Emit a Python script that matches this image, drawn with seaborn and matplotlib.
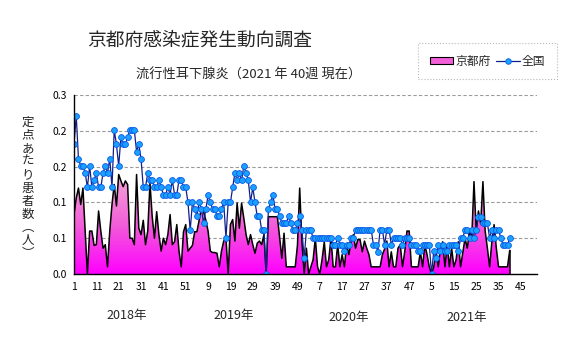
import numpy as np
import pandas as pd
import matplotlib
matplotlib.use("Agg")
import matplotlib.pyplot as plt
import seaborn as sns
from matplotlib.colors import LinearSegmentedColormap
from matplotlib.patches import Patch
from matplotlib.lines import Line2D

# 定点あたり患者数 (per sentinel), weekly, 2018 w1 .. 2021 w40
kyoto_2018 = [0.083, 0.106, 0.12, 0.097, 0.12, 0.06, 0.0, 0.06, 0.06, 0.04,
              0.041, 0.088, 0.06, 0.036, 0.041, 0.01, 0.06, 0.097, 0.125, 0.095,
              0.139, 0.13, 0.122, 0.13, 0.125, 0.05, 0.05, 0.041, 0.139, 0.064,
              0.055, 0.075, 0.041, 0.06, 0.127, 0.08, 0.05, 0.087, 0.055, 0.032,
              0.05, 0.041, 0.055, 0.083, 0.041, 0.045, 0.069, 0.032, 0.01, 0.059,
              0.069, 0.032]
kyoto_2019 = [0.036, 0.04, 0.059, 0.059, 0.075, 0.092, 0.087, 0.075, 0.06, 0.032,
              0.03, 0.03, 0.029, 0.01, 0.032, 0.046, 0.05, 0.0, 0.069, 0.076,
              0.046, 0.099, 0.064, 0.099, 0.078, 0.055, 0.041, 0.055, 0.041, 0.029,
              0.043, 0.046, 0.041, 0.055, 0.0, 0.08, 0.08, 0.08, 0.08, 0.08,
              0.052, 0.022, 0.057, 0.01, 0.01, 0.01, 0.01, 0.01, 0.04, 0.12,
              0.045, 0.0]
kyoto_2020 = [0.036, 0.0, 0.01, 0.02, 0.05, 0.01, 0.0, 0.02, 0.045, 0.01,
              0.02, 0.05, 0.01, 0.01, 0.041, 0.01, 0.027, 0.01, 0.041, 0.027,
              0.045, 0.055, 0.036, 0.048, 0.048, 0.031, 0.046, 0.036, 0.027, 0.01,
              0.01, 0.01, 0.01, 0.01, 0.027, 0.035, 0.046, 0.01, 0.031, 0.01,
              0.01, 0.036, 0.041, 0.01, 0.031, 0.06, 0.06, 0.01, 0.01, 0.01,
              0.01, 0.031]
kyoto_2021 = [0.01, 0.041, 0.027, 0.01, 0.0, 0.01, 0.031, 0.01, 0.036, 0.045,
              0.01, 0.041, 0.01, 0.036, 0.01, 0.02, 0.045, 0.01, 0.03, 0.05,
              0.036, 0.06, 0.05, 0.129, 0.06, 0.088, 0.07, 0.129, 0.06, 0.036,
              0.01, 0.045, 0.069, 0.036, 0.01, 0.01, 0.01, 0.01, 0.01, 0.033]

national_2018 = [0.181, 0.221, 0.161, 0.151, 0.151, 0.141, 0.121, 0.151, 0.121, 0.131,
                 0.141, 0.121, 0.121, 0.141, 0.151, 0.141, 0.161, 0.121, 0.201, 0.181,
                 0.151, 0.191, 0.181, 0.181, 0.191, 0.201, 0.201, 0.201, 0.171, 0.181,
                 0.161, 0.121, 0.121, 0.141, 0.131, 0.131, 0.121, 0.121, 0.131, 0.121,
                 0.111, 0.111, 0.121, 0.111, 0.131, 0.111, 0.111, 0.131, 0.131, 0.121,
                 0.121, 0.10]
national_2019 = [0.061, 0.10, 0.091, 0.081, 0.10, 0.091, 0.071, 0.091, 0.11, 0.10,
                 0.091, 0.091, 0.081, 0.081, 0.091, 0.10, 0.05, 0.10, 0.10, 0.121,
                 0.141, 0.131, 0.141, 0.131, 0.151, 0.141, 0.131, 0.10, 0.121, 0.10,
                 0.081, 0.081, 0.061, 0.061, 0.0, 0.091, 0.10, 0.11, 0.091, 0.091,
                 0.081, 0.071, 0.071, 0.071, 0.081, 0.071, 0.061, 0.061, 0.071, 0.081,
                 0.061, 0.022]
national_2020 = [0.061, 0.061, 0.061, 0.05, 0.05, 0.05, 0.05, 0.05, 0.05, 0.05,
                 0.05, 0.05, 0.041, 0.041, 0.05, 0.041, 0.041, 0.032, 0.041, 0.041,
                 0.05, 0.05, 0.062, 0.062, 0.062, 0.062, 0.062, 0.062, 0.062, 0.062,
                 0.041, 0.041, 0.031, 0.062, 0.062, 0.041, 0.062, 0.062, 0.041, 0.05,
                 0.05, 0.05, 0.05, 0.041, 0.05, 0.05, 0.05, 0.041, 0.041, 0.041,
                 0.032, 0.032]
national_2021 = [0.041, 0.041, 0.041, 0.041, 0.0, 0.032, 0.022, 0.041, 0.032, 0.041,
                 0.032, 0.032, 0.041, 0.041, 0.041, 0.041, 0.032, 0.05, 0.05, 0.062,
                 0.062, 0.05, 0.062, 0.05, 0.062, 0.08, 0.08, 0.071, 0.071, 0.071,
                 0.05, 0.062, 0.05, 0.062, 0.062, 0.05, 0.041, 0.041, 0.041, 0.05]

week_tick_labels = ["1", "11", "21", "31", "41", "51", "9", "19", "29", "39", "49",
                    "7", "17", "27", "37", "47", "5", "15", "25", "35", "45"]
year_labels = ["2018年", "2019年", "2020年", "2021年"]
y_ticks = [0.0, 0.05, 0.10, 0.15, 0.20, 0.25]
y_tick_labels = ["0.0", "0.1", "0.1", "0.2", "0.2", "0.3"]

kyoto = kyoto_2018 + kyoto_2019 + kyoto_2020 + kyoto_2021
national = national_2018 + national_2019 + national_2020 + national_2021

df = pd.DataFrame({"week": np.arange(len(kyoto)), "京都府": kyoto, "全国": national})

sns.set_style("white")
plt.rcParams["font.family"] = ["Noto Sans CJK JP", "DejaVu Sans"]

W, H = 567, 339
fig = plt.figure(figsize=(W / 100, H / 100), dpi=100)
ax = fig.add_axes([74 / W, 1 - 274 / H, (537 - 74) / W, (274 - 95) / H])

# Kyoto: area with a vertical pink-to-magenta gradient and a black outline
fill = ax.fill_between(df["week"], 0, df["京都府"], facecolor="none", edgecolor="none")
grad = np.linspace(0, 1, 256).reshape(-1, 1)
cmap = LinearSegmentedColormap.from_list("kyoto_fill", ["#FF00FF", "#F25FD8", "#F4A6D6"])
im = ax.imshow(grad, aspect="auto", cmap=cmap, origin="lower",
               extent=[df["week"].min(), df["week"].max(), 0, df["京都府"].max()],
               zorder=1, interpolation="bilinear")
im.set_clip_path(fill.get_paths()[0], transform=ax.transData)
sns.lineplot(data=df, x="week", y="京都府", color="black", lw=1.1, ax=ax, zorder=2)
ax.vlines(df["week"].iloc[-1], 0, df["京都府"].iloc[-1], color="black", lw=1.1, zorder=2)

# national: navy line with light-blue dots
sns.lineplot(data=df, x="week", y="全国", color="#10208A", lw=0.9, marker="o",
             markersize=4.2, markerfacecolor="#1AA0FF", markeredgecolor="#0A5AE6",
             markeredgewidth=0.6, ax=ax, zorder=3)

ax.set_xlim(0, 207.2)
ax.set_ylim(0, 0.25)
ax.set_yticks(y_ticks)
ax.set_yticklabels(y_tick_labels)
ax.set_xticks(np.arange(0, 10 * len(week_tick_labels), 10))
ax.set_xticklabels(week_tick_labels)
ax.set_xlabel("")
ax.set_ylabel("")
ax.tick_params(axis="x", direction="in", length=5, width=0.8, pad=6, labelsize=7.5, colors="black")
ax.tick_params(axis="y", direction="in", length=0, pad=5, labelsize=7.5, colors="black")
ax.yaxis.grid(True, linestyle=(0, (3, 2)), color="#9A9A9A", lw=0.8)
ax.xaxis.grid(False)
ax.set_axisbelow(True)
for s in ("top", "right"):
    ax.spines[s].set_visible(False)
for s in ("left", "bottom"):
    ax.spines[s].set_color("black")
    ax.spines[s].set_linewidth(1.0)
    ax.spines[s].set_zorder(4)

# titles
fig.text(200 / W, 1 - 40 / H, "京都府感染症発生動向調査", ha="center", va="center", fontsize=13.5)
fig.text(249 / W, 1 - 75 / H, "流行性耳下腺炎（2021 年 40週 現在）", ha="center", va="center", fontsize=9.5)

# vertical axis title, one character per line
ylabel = "定点あたり患者数︵人︶"
fig.text(28 / W, 1 - 188 / H, "\n".join(ylabel), ha="center", va="center",
         fontsize=9, linespacing=1.02)

# year captions below the week numbers
for lab, (xp, yp) in zip(year_labels, [(127, 315), (234, 315), (349, 318), (467, 318)]):
    fig.text(xp / W, 1 - yp / H, lab, ha="center", va="center", fontsize=9)

# legend
handles = [Patch(facecolor="#F25FD8", edgecolor="black", lw=0.8),
           Line2D([], [], color="#10208A", lw=0.9, marker="o", markersize=4,
                  markerfacecolor="#1AA0FF", markeredgecolor="#0A5AE6", markeredgewidth=0.6)]
leg = fig.legend(handles, ["京都府", "全国"], loc="center", bbox_to_anchor=(487.5 / W, 1 - 61 / H),
                 ncol=2, frameon=True, fancybox=False, fontsize=8.5, handlelength=2.0,
                 handleheight=0.5, handletextpad=0.15, columnspacing=0.5, borderpad=1.0)
frame = leg.get_frame()
frame.set_edgecolor("#A8A8A8")
frame.set_linestyle(":")
frame.set_linewidth(0.8)

fig.savefig("out.png", dpi=100, facecolor="white")
